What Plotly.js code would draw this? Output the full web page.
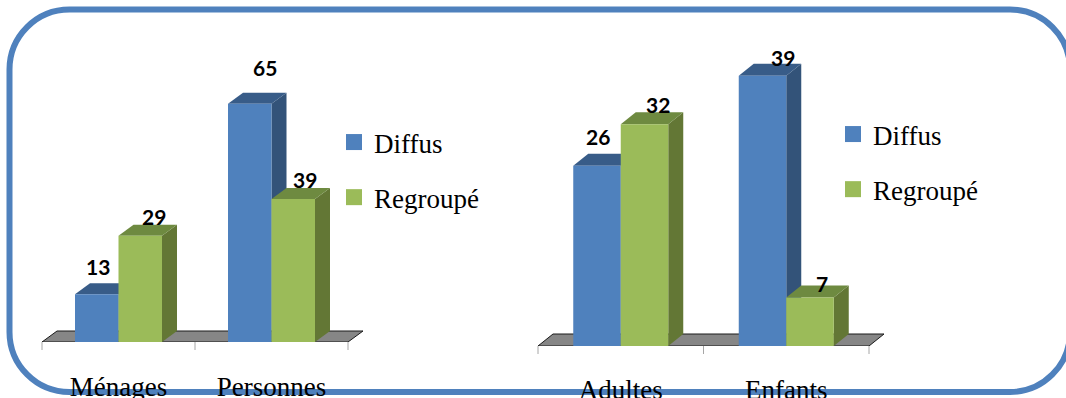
<!DOCTYPE html>
<html>
<head>
<meta charset="utf-8">
<script src="https://cdn.plot.ly/plotly-3.0.1.min.js"></script>
<style>html,body{margin:0;padding:0;background:#fff;overflow:hidden}</style>
</head>
<body>
<div id="chart" style="width:1066px;height:398px"></div>
<script>
// Household and population data, by settlement type
const seriesNames = ['Diffus', 'Regroupé'];
const householdCategories = ['Ménages', 'Personnes'];
const householdDiffus = [13, 65];
const householdRegroupe = [29, 39];
const peopleCategories = ['Adultes', 'Enfants'];
const peopleDiffus = [26, 39];
const peopleRegroupe = [32, 7];

// Page and palette
const W = 1066, H = 398;
const BLUE = '#4F81BD', BLUE_SIDE = '#335379', BLUE_TOP = '#385C88';
const GREEN = '#9BBB59', GREEN_SIDE = '#637735', GREEN_TOP = '#6E8A40';
const SERIF = '"Liberation Serif", serif';

// Pixel frame of each panel: slot edges, baseline and vertical scale
const panels = [
  {x: 'x',  y: 'y',  legend: 'legend',  left: 42,  slot: 153, base: 342, perUnit: 3.665, barPx: 43.5, depthX: 15, depthY: 11,
   cats: householdCategories, a: householdDiffus, b: householdRegroupe,
   legendX: 334, legendY: 118, labelGap: 21,
   nudge: [[[1, 28], [15, 36]], [[14, 19], [12, 20]]]},
  {x: 'x2', y: 'y2', legend: 'legend2', left: 538, slot: 165.5, base: 346, perUnit: 6.93, barPx: 47.5, depthX: 15, depthY: 12,
   cats: peopleCategories, a: peopleDiffus, b: peopleRegroupe,
   legendX: 833, legendY: 110, labelGap: 20,
   nudge: [[[1, 29], [20, 18]], [[13, 20], [12, 14]]]}
];

const traces = [], shapes = [], annotations = [], layout = {};

// Rounded frame around the whole figure
function frame(x0, y0, x1, y1, r) {
  const k = r * 0.4477;
  const px = v => (v / W).toFixed(5), py = v => (1 - v / H).toFixed(5);
  const P = (a, b) => px(a) + ',' + py(b);
  return 'M' + P(x0 + r, y0) + 'L' + P(x1 - r, y0) +
    'C' + P(x1 - k, y0) + ' ' + P(x1, y0 + k) + ' ' + P(x1, y0 + r) +
    'L' + P(x1, y1 - r) +
    'C' + P(x1, y1 - k) + ' ' + P(x1 - k, y1) + ' ' + P(x1 - r, y1) +
    'L' + P(x0 + r, y1) +
    'C' + P(x0 + k, y1) + ' ' + P(x0, y1 - k) + ' ' + P(x0, y1 - r) +
    'L' + P(x0, y0 + r) +
    'C' + P(x0, y0 + k) + ' ' + P(x0 + k, y0) + ' ' + P(x0 + r, y0) + 'Z';
}
shapes.push({type: 'path', xref: 'paper', yref: 'paper', layer: 'below',
  path: frame(9.5, 9.5, 1070, 392, 60), line: {color: BLUE, width: 6}, fillcolor: 'rgba(0,0,0,0)'});

function poly(p, pts, fill, line) {
  shapes.push({type: 'path', xref: p.x, yref: p.y, layer: 'below',
    path: 'M' + pts.map(q => q[0] + ',' + q[1]).join('L') + 'Z',
    fillcolor: fill, line: line || {width: 0}});
}

panels.forEach((p, idx) => {
  const dx = p.depthX / p.slot, dy = p.depthY / p.perUnit, bw = p.barPx / p.slot;
  const lastEdge = p.cats.length - 0.5;

  // Axis frames extend past the slots so the floor and edge ticks stay visible
  const pxLeft = p.left - 2, pxRight = p.left + p.slot * p.cats.length + p.depthX + 2;
  const xName = idx ? 'xaxis2' : 'xaxis', yName = idx ? 'yaxis2' : 'yaxis';
  layout[xName] = {
    domain: [pxLeft / W, pxRight / W], anchor: p.y, type: 'linear',
    range: [-0.5 - 2 / p.slot, lastEdge + (p.depthX + 2) / p.slot],
    tickmode: 'array', tickvals: p.cats.map((c, i) => i), ticktext: p.cats,
    ticks: 'outside', ticklen: p.labelGap, tickcolor: 'rgba(0,0,0,0)', tickwidth: 1,
    ticklabeloverflow: 'allow', tickfont: {family: SERIF, size: 27, color: '#000'},
    showline: false, showgrid: false, zeroline: false, fixedrange: true
  };
  layout[yName] = {
    domain: [1 - p.base / H, 1], anchor: p.x, range: [0, p.base / p.perUnit],
    showticklabels: false, ticks: '', showline: false, showgrid: false, zeroline: false, fixedrange: true
  };

  // Grey floor under the bars, with its tick marks at the slot edges
  poly(p, [[-0.5, 0], [-0.5 + dx, dy], [lastEdge + dx, dy], [lastEdge, 0]], '#868686', {color: '#1a1a1a', width: 1});
  for (let e = 0; e <= p.cats.length; e++) {
    shapes.push({type: 'line', xref: p.x, yref: p.y + ' domain', layer: 'below',
      x0: e - 0.5, x1: e - 0.5, y0: 0, y1: -8 / p.base, line: {color: '#A6A6A6', width: 1}});
  }

  // Side and top faces, behind the front faces that the bar traces draw
  [[p.a, -bw, BLUE_SIDE, BLUE_TOP], [p.b, 0, GREEN_SIDE, GREEN_TOP]].forEach(([vals, off, side, top]) => {
    vals.forEach((v, i) => {
      const l = i + off, r = l + bw;
      poly(p, [[r, 0], [r + dx, dy], [r + dx, v + dy], [r, v]], side);
      poly(p, [[l, v], [l + dx, v + dy], [r + dx, v + dy], [r, v]], top);
    });
  });

  // Front faces
  [[p.a, -bw, BLUE], [p.b, 0, GREEN]].forEach(([vals, off, color], s) => {
    traces.push({type: 'bar', x: p.cats.map((c, i) => i), y: vals, width: bw, offset: off,
      marker: {color: color}, showlegend: false, hoverinfo: 'none', xaxis: p.x, yaxis: p.y,
      name: seriesNames[s]});
    // Legend entry with a larger square swatch than a bar key gives
    traces.push({type: 'scatter', mode: 'markers', x: [null], y: [null], xaxis: p.x, yaxis: p.y,
      name: seriesNames[s], legend: p.legend, legendgroup: p.legend + s,
      marker: {symbol: 'square', size: 16, color: color}, hoverinfo: 'none'});

    // Value labels
    vals.forEach((v, i) => {
      annotations.push({xref: p.x, yref: p.y, x: i + off + bw / 2, y: v, text: String(v),
        xshift: p.nudge[s][i][0], yshift: p.nudge[s][i][1], showarrow: false,
        xanchor: 'center', yanchor: 'middle',
        font: {family: 'Lato, sans-serif', size: 21, color: '#000', weight: 'bold'}});
    });
  });

  layout[p.legend] = {x: p.legendX / W, y: 1 - p.legendY / H, xanchor: 'left', yanchor: 'top',
    traceorder: 'grouped', tracegroupgap: 17, bgcolor: 'rgba(0,0,0,0)', borderwidth: 0,
    font: {family: SERIF, size: 27, color: '#000'}};
});

Object.assign(layout, {
  width: W, height: H, margin: {l: 0, r: 0, t: 0, b: 0, pad: 0}, autosize: false,
  paper_bgcolor: '#fff', plot_bgcolor: 'rgba(0,0,0,0)', barmode: 'group',
  shapes: shapes, annotations: annotations, showlegend: true, hovermode: false
});

Plotly.newPlot('chart', traces, layout, {displayModeBar: false, staticPlot: true});
</script>
</body>
</html>
